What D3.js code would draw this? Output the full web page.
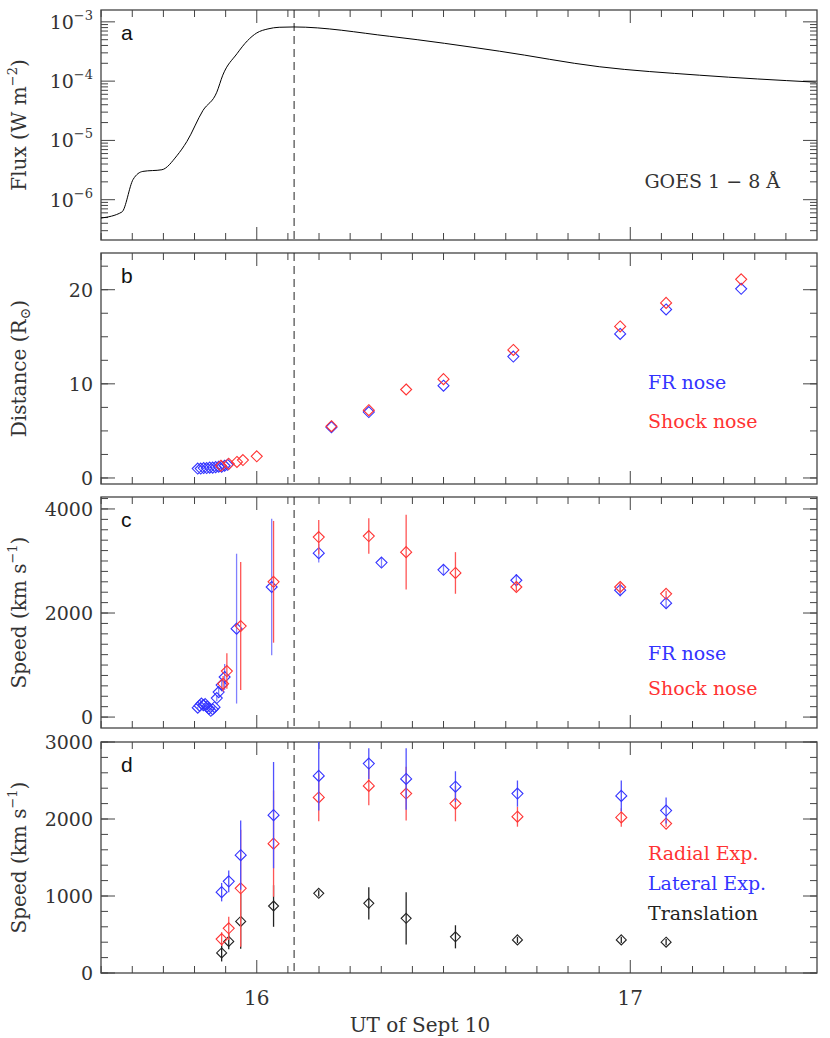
<!DOCTYPE html>
<html><head><meta charset="utf-8">
<script src="https://cdn.jsdelivr.net/npm/d3@7"></script>
<style>body{margin:0;background:#fff}text{font-family:"DejaVu Serif",serif;fill:#333}</style>
</head><body><div id="chart"></div>
<script>
// GOES flux curve (hours UT, W m^-2)
var goesTime = [15.583,15.639,15.669,15.695,15.746,15.786,15.813,15.856,15.893,15.909,15.947,15.975,16.0,16.03,16.06,16.099,16.356,16.65,16.917,17.185,17.497];
var goesFlux = [4.9e-7,6.2e-7,2.2e-6,3.0e-6,3.2e-6,5.5e-6,9.6e-6,3.2e-5,6.5e-5,1.26e-4,2.9e-4,4.8e-4,6.5e-4,7.6e-4,8.1e-4,8.2e-4,5.7e-4,3.2e-4,1.75e-4,1.26e-4,9.6e-5];

// panel b: distance
var distFRTime = [15.842,15.850,15.858,15.866,15.874,15.882,15.890,15.898,15.906,15.914,15.922,16.2,16.3,16.5,16.687,16.973,17.096,17.297];
var distFR = [1.0,1.0,1.05,1.05,1.1,1.1,1.15,1.2,1.2,1.3,1.4,5.4,7.0,9.8,12.9,15.3,17.9,20.1];
var distShTime = [15.904,15.925,15.947,15.963,16.0,16.2,16.3,16.4,16.5,16.687,16.973,17.096,17.297];
var distSh = [1.3,1.5,1.7,1.9,2.3,5.5,7.2,9.4,10.5,13.6,16.1,18.6,21.1];

// panel c: speed FR / shock  [time, value, error]
var spFRTime = [15.842,15.847,15.852,15.857,15.862,15.867,15.872,15.877,15.882,15.887,15.893,15.898,15.906,15.914,15.946,16.04,16.166,16.334,16.5,16.695,16.973,17.096];
var spFR = [180,220,260,230,250,200,160,120,150,190,365,480,615,770,1700,2500,3150,2970,2830,2630,2440,2190];
var spFRErr = [20,20,20,20,20,20,20,20,20,20,60,80,120,250,1440,1310,180,90,100,120,120,100];
var spShTime = [15.91,15.92,15.957,16.045,16.166,16.3,16.4,16.532,16.695,16.973,17.096];
var spSh = [640,885,1750,2600,3460,3480,3170,2770,2500,2500,2370];
var spShErr = [150,340,1230,1170,330,340,720,400,80,80,60];

// panel d: expansion speeds
var expTime = [15.906,15.925,15.957,16.045,16.166,16.3,16.4,16.532,16.698,16.976,17.096];
var radExp = [440,580,1100,1680,2280,2430,2330,2200,2030,2020,1940];
var radErr = [90,150,760,690,310,250,350,230,130,120,40];
var latExp = [1050,1190,1530,2050,2560,2720,2520,2420,2330,2300,2110];
var latErr = [120,140,450,690,450,200,400,200,170,200,170];
var trans = [260,410,670,870,1035,905,710,470,430,430,400];
var transErr = [110,100,355,270,40,210,340,150,40,40,40];

var W = 830, H = 1038, L = 101, R = 817;
var svg = d3.select("#chart").append("svg").attr("width", W).attr("height", H);
var x = d3.scaleLinear().domain([15.583, 17.5]).range([L, R]);
var tHours = d3.range(16, 18, 1);
var tMinor = d3.range(15.5834, 17.5, 1/12);

var panels = [
  {top: 10, bot: 240, y: d3.scaleLog().domain([10**-6.68, 10**-2.8]), letter: "a"},
  {top: 253, bot: 484, y: d3.scaleLinear().domain([-0.64, 23.9]), letter: "b", major: [0,10,20], minor: d3.range(0, 25, 2.5)},
  {top: 497, bot: 728, y: d3.scaleLinear().domain([-210, 4230]), letter: "c", major: [0,2000,4000], minor: d3.range(0, 4201, 200)},
  {top: 742, bot: 973, y: d3.scaleLinear().domain([0, 3000]), letter: "d", major: [0,1000,2000,3000], minor: d3.range(0, 3001, 200)}
];

var axisCol = "#444";
panels.forEach(function(p, i) {
  p.y.range([p.bot, p.top]);
  var g = svg.append("g");
  p.g = g;
  g.append("rect").attr("x", L).attr("y", p.top).attr("width", R - L).attr("height", p.bot - p.top)
    .attr("fill", "none").attr("stroke", axisCol).attr("stroke-width", 1.3);
  // x ticks top + bottom
  tMinor.forEach(function(t) {
    var isMaj = Math.abs(t - Math.round(t)) < 0.01;
    var len = isMaj ? 13 : 7;
    g.append("line").attr("x1", x(t)).attr("x2", x(t)).attr("y1", p.bot).attr("y2", p.bot - len).attr("stroke", axisCol);
    g.append("line").attr("x1", x(t)).attr("x2", x(t)).attr("y1", p.top).attr("y2", p.top + len).attr("stroke", axisCol);
  });
  // dashed line
  g.append("line").attr("x1", x(16.1)).attr("x2", x(16.1)).attr("y1", p.top).attr("y2", p.bot)
    .attr("stroke", "#222").attr("stroke-dasharray", "8,5");
  g.append("text").attr("x", 121).attr("y", p.top + 30).attr("font-size", 21)
    .style("font-family", "Liberation Sans, sans-serif").style("fill", "#111").text(p.letter);
  var minors, majors;
  if (i === 0) {
    majors = [1e-6, 1e-5, 1e-4, 1e-3];
    minors = [];
    [1e-7, 1e-6, 1e-5, 1e-4, 1e-3].forEach(function(d) { for (var k = 2; k < 10; k++) minors.push(d * k); });
    minors = minors.filter(function(v) { return v > p.y.domain()[0] && v < p.y.domain()[1]; });
  } else { majors = p.major; minors = p.minor; }
  minors.forEach(function(v) {
    [[L, L + 7], [R, R - 7]].forEach(function(s) {
      g.append("line").attr("x1", s[0]).attr("x2", s[1]).attr("y1", p.y(v)).attr("y2", p.y(v)).attr("stroke", axisCol);
    });
  });
  majors.forEach(function(v) {
    [[L, L + 14], [R, R - 14]].forEach(function(s) {
      g.append("line").attr("x1", s[0]).attr("x2", s[1]).attr("y1", p.y(v)).attr("y2", p.y(v)).attr("stroke", axisCol);
    });
    var tx = g.append("text").attr("x", L - 8).attr("y", p.y(v) + 7).attr("text-anchor", "end").attr("font-size", 19);
    if (i === 0) {
      tx.append("tspan").text("10");
      tx.append("tspan").attr("dy", -9).attr("font-size", 13).text("\u2212" + Math.round(-Math.log10(v)));
    } else tx.text(v);
  });
});

function ylabel(p, parts) {
  var t = svg.append("text").attr("transform", "translate(26," + ((p.top + p.bot) / 2) + ") rotate(-90)")
    .attr("text-anchor", "middle").attr("font-size", 20);
  parts.forEach(function(s) {
    var ts = t.append("tspan").text(s[0]);
    if (s[1]) ts.attr("dy", s[1]).attr("font-size", s[2] || 20);
  });
}
ylabel(panels[0], [["Flux (W m"], ["\u22122", -9, 13], [")", 9]]);
ylabel(panels[1], [["Distance (R"], ["\u2299", 4, 14], [")", -4]]);
ylabel(panels[2], [["Speed (km s"], ["\u22121", -9, 13], [")", 9]]);
ylabel(panels[3], [["Speed (km s"], ["\u22121", -9, 13], [")", 9]]);

tHours.forEach(function(t) {
  svg.append("text").attr("x", x(t)).attr("y", 1005).attr("text-anchor", "middle").attr("font-size", 20).text(t);
});
svg.append("text").attr("x", 420).attr("y", 1032).attr("text-anchor", "middle").attr("font-size", 20).text("UT of Sept 10");

// panel a curve
var pa = panels[0];
pa.g.append("path").datum(d3.zip(goesTime, goesFlux))
  .attr("d", d3.line().x(function(d) { return x(d[0]); }).y(function(d) { return pa.y(d[1]); }).curve(d3.curveMonotoneX))
  .attr("fill", "none").attr("stroke", "#000").attr("stroke-width", 1);
pa.g.append("text").attr("x", 780).attr("y", 188).attr("text-anchor", "end").attr("font-size", 19).text("GOES 1 \u2212 8 \u00c5");

function diamond(g, cx, cy, r, col) {
  g.append("path").attr("d", "M" + cx + "," + (cy - r) + "L" + (cx + r) + "," + cy + "L" + cx + "," + (cy + r) + "L" + (cx - r) + "," + cy + "Z")
    .attr("fill", "none").attr("stroke", col).attr("stroke-width", 1.1);
}
function series(p, ts, vs, es, col, ecol, r) {
  ts.forEach(function(t, k) {
    if (es) p.g.append("line").attr("x1", x(t)).attr("x2", x(t))
      .attr("y1", Math.max(p.top, p.y(vs[k] - es[k]))).attr("y2", Math.max(p.top, p.y(vs[k] + es[k])))
      .attr("stroke", ecol).attr("stroke-width", 1.3);
  });
  ts.forEach(function(t, k) { diamond(p.g, x(t), p.y(vs[k]), r, col); });
}
var BLUE = "#3333ff", RED = "#ff3333";
series(panels[1], distFRTime, distFR, null, BLUE, null, 5.5);
series(panels[1], distShTime, distSh, null, RED, null, 5.5);
series(panels[2], spFRTime, spFR, spFRErr, BLUE, "#8080ff", 5.5);
series(panels[2], spShTime, spSh, spShErr, RED, "#ff5555", 5.5);
series(panels[3], expTime, trans, transErr, "#222", "#222", 5);
series(panels[3], expTime, radExp, radErr, RED, "#ff5555", 5.5);
series(panels[3], expTime, latExp, latErr, BLUE, "#5050ff", 5.5);

function legend(p, items) {
  items.forEach(function(it) {
    p.g.append("text").attr("x", 648).attr("y", it[2]).attr("font-size", 19).style("fill", it[1]).text(it[0]);
  });
}
legend(panels[1], [["FR nose", BLUE, 389], ["Shock nose", RED, 428]]);
legend(panels[2], [["FR nose", BLUE, 660], ["Shock nose", RED, 695]]);
legend(panels[3], [["Radial Exp.", RED, 860], ["Lateral Exp.", BLUE, 890], ["Translation", "#222", 920]]);
</script></body></html>
